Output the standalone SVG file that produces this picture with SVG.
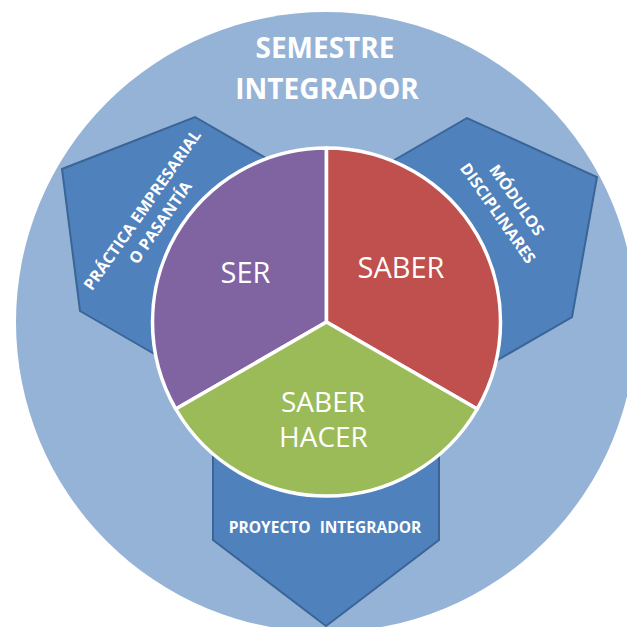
<svg xmlns="http://www.w3.org/2000/svg" width="627" height="627" viewBox="0 0 627 627">
<style>
.bg{fill:#ffffff}
.outer{fill:#95b3d7}
.tab{fill:#4f81bd;stroke:#3a6596;stroke-width:2;stroke-linejoin:miter}
.seg{stroke:#ffffff;stroke-width:3.5;stroke-linejoin:round}
.title{font-family:"Open Sans","Liberation Sans",sans-serif;font-weight:bold;font-size:28px;fill:#ffffff;text-anchor:middle}
.big{font-family:"Open Sans","Liberation Sans",sans-serif;font-size:29px;fill:#ffffff;text-anchor:middle}
.small{font-family:"Open Sans","Liberation Sans",sans-serif;font-weight:bold;font-size:16px;fill:#ffffff;text-anchor:middle}
</style>
<rect class="bg" x="0" y="0" width="627" height="627"/>
<g id="semestre-integrador">
<circle class="outer" cx="326" cy="322" r="310"/>
<text class="title" x="325" y="58">SEMESTRE</text>
<text class="title" x="327" y="99">INTEGRADOR</text>
</g>
<g id="practica">
<polygon class="tab" points="368,217 195,117 62,169 80,311 253,411"/>
<text class="small" transform="translate(151,216) rotate(-55)"><tspan x="0" y="-5">PRÁCTICA EMPRESARIAL</tspan><tspan x="0" y="17">O PASANTÍA</tspan></text>
</g>
<g id="modulos">
<polygon class="tab" points="294,218 467,118 597,177 572,317 399,417"/>
<text class="small" transform="translate(508,206) rotate(55)"><tspan x="0" y="-5">MÓDULOS</tspan><tspan x="0" y="18">DISCIPLINARES</tspan></text>
</g>
<g id="proyecto">
<polygon class="tab" points="213,380 213,540 326,626 439,540 439,380"/>
<text class="small" x="325" y="533" style="font-size:15.5px;word-spacing:5px">PROYECTO INTEGRADOR</text>
</g>
<g id="connectors"></g>
<g id="ser">
<path class="seg" fill="#8064a2" d="M326.5,322 L326.5,148 A174,174 0 0 0 175.8,409 Z"/>
<text class="big" x="245.5" y="283">SER</text>
</g>
<g id="saber">
<path class="seg" fill="#c0504d" d="M326.5,322 L326.5,148 A174,174 0 0 1 477.2,409 Z"/>
<text class="big" x="401" y="278">SABER</text>
</g>
<g id="saber-hacer">
<path class="seg" fill="#9bbb59" d="M326.5,322 L175.8,409 A174,174 0 0 0 477.2,409 Z"/>
<text class="big" x="323" y="412" style="font-size:28px">SABER</text>
<text class="big" x="323.5" y="447" style="font-size:28px">HACER</text>
</g>
</svg>
